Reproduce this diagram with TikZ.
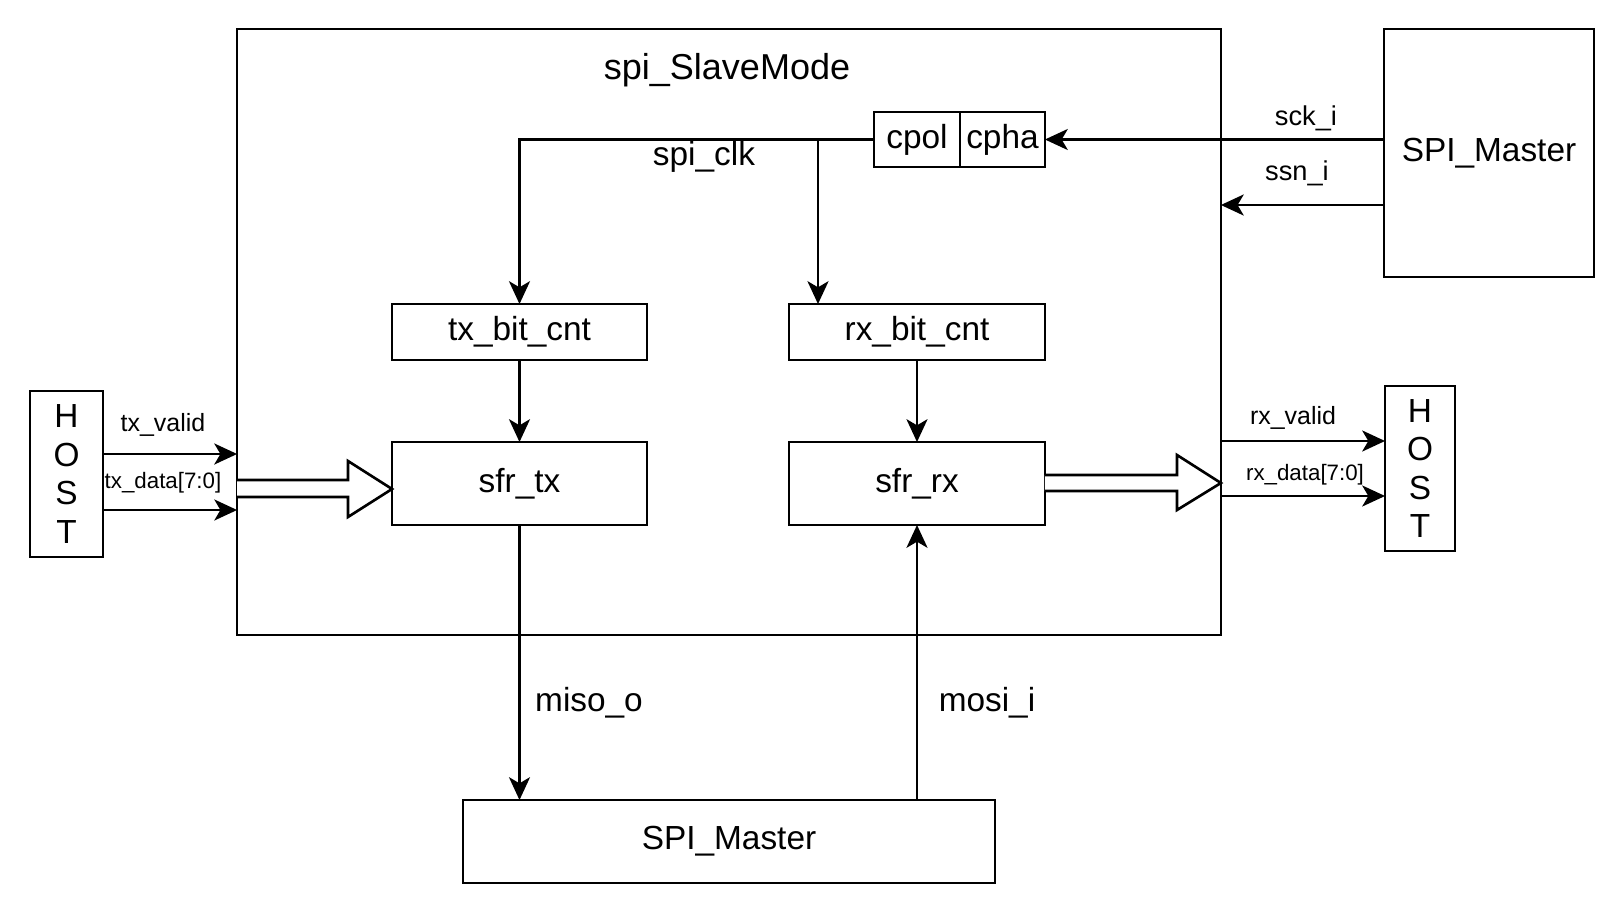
\documentclass[tikz,border=0pt]{standalone}
\usepackage{fontspec}
\setmainfont{Liberation Sans}
\usetikzlibrary{arrows.meta, positioning}

\begin{document}
\begin{tikzpicture}[x=0.02cm, y=-0.02cm, line width=1.3pt,
 >={Stealth[length=13pt,width=12pt,inset=3.5pt]},
 block node/.style={rectangle, draw, line width=1.5pt, inner sep=0pt, outer sep=0pt,
   font=\fontsize{19}{22}\selectfont},
 text node/.style={inner sep=0pt, font=\fontsize{19}{22}\selectfont},
 sig label/.style={inner sep=0pt, font=\fontsize{15.5}{18}\selectfont},
 bus label/.style={inner sep=0pt, font=\fontsize{14.2}{17}\selectfont},
 data label/.style={inner sep=0pt, font=\fontsize{12.7}{15}\selectfont},
 hollow/.style={draw, line width=1.5pt, fill=white}]
  \useasboundingbox (0,0) rectangle (1624,913);

  \node[block node, minimum width=19.68cm, minimum height=12.12cm] (slave) at (729,332) {};
  \node[text node, font=\fontsize{20.5}{24}\selectfont] (title) at (727,70) {spi\_SlaveMode};
  \node[block node, minimum width=4.2cm, minimum height=4.96cm] (mstR) at (1489,153) {SPI\_Master};
  \node[block node, minimum width=1.72cm, minimum height=1.1cm] (cpol) at (917,139.5) {cpol};
  \node[block node, minimum width=1.7cm, minimum height=1.1cm, right=0pt of cpol] (cpha) {cpha};
  \node[block node, minimum width=5.1cm, minimum height=1.12cm] (txcnt) at (519.5,332) {tx\_bit\_cnt};
  \node[block node, minimum width=5.12cm, minimum height=1.12cm] (rxcnt) at (917,332) {rx\_bit\_cnt};
  \node[block node, minimum width=5.1cm, minimum height=1.66cm] (sfrtx) at (519.5,483.5) {sfr\_tx};
  \node[block node, minimum width=5.12cm, minimum height=1.66cm] (sfrrx) at (917,483.5) {sfr\_rx};
  \node[block node, minimum width=1.46cm, minimum height=3.32cm, align=center] (hostL) at (66.5,474) {H\\O\\S\\T};
  \node[block node, minimum width=1.4cm, minimum height=3.3cm, align=center] (hostR) at (1420,468.5) {H\\O\\S\\T};
  \node[block node, minimum width=10.64cm, minimum height=1.66cm] (mstB) at (729,841.5) {SPI\_Master};

  % clock path
  \draw[->] (cpol.west) -| (txcnt.north);
  \coordinate (clkbr) at (818,139.5);
  \draw[->] (clkbr) -- (clkbr |- rxcnt.north);
  \node[text node] (clk) at (704,157) {spi\_clk};

  \draw[->] (mstR.west |- cpha.east) -- (cpha.east);
  \draw[->] (mstR.west |- 0,205) -- (slave.east |- 0,205);
  \node[sig label] at (1306,118) {sck\_i};
  \node[sig label] at (1297,173) {ssn\_i};

  \foreach \s/\t in {txcnt/sfrtx, rxcnt/sfrrx} {
   \path[draw,->] (\s) edge (\t);}

  % host side
  \draw[->] (hostL.east |- 0,454) -- (slave.west |- 0,454);
  \draw[->, line width=1pt] (hostL.east |- 0,510) -- (slave.west |- 0,510);
  \node[bus label] at (163,425) {tx\_valid};
  \node[data label] at (163,483) {tx\_data[7:0]};
  \draw[->] (slave.east |- 0,441) -- (hostR.west |- 0,441);
  \draw[->, line width=1pt] (slave.east |- 0,496) -- (hostR.west |- 0,496);
  \node[bus label] at (1293,418) {rx\_valid};
  \node[data label] at (1305,475) {rx\_data[7:0]};

  \draw[hollow] (slave.west |- 0,480) -- (348,480) -- (348,461) -- (sfrtx.west |- 0,489)
    -- (348,517) -- (348,497) -- (slave.west |- 0,497);
  \draw[hollow] (sfrrx.east |- 0,475) -- (1177,475) -- (1177,455) -- (slave.east |- 0,483)
    -- (1177,510) -- (1177,491) -- (sfrrx.east |- 0,491);

  % miso / mosi
  \draw[->] (sfrtx.south) -- (sfrtx.south |- mstB.north);
  \draw[->] (sfrrx.south |- mstB.north) -- (sfrrx.south);
  \node[text node] at (589,703) {miso\_o};
  \node[text node] at (987,703) {mosi\_i};
\end{tikzpicture}
\end{document}
